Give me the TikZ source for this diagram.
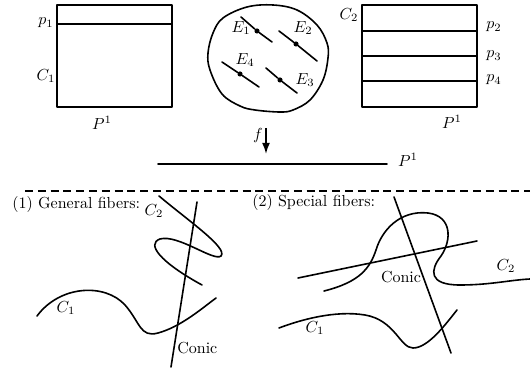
\documentclass[tikz,border=0pt]{standalone}
\usetikzlibrary{arrows.meta}
\begin{document}
\begin{tikzpicture}[x=0.625pt,y=-0.625pt,
  curve/.style={line width=1pt,line join=round,line cap=round},
  lbl/.style={inner sep=0pt},
  dotm/.style={circle,fill=black,inner sep=0pt,minimum size=3.2pt}]
\useasboundingbox (0,0) rectangle (530,373);
% left box
\draw[curve] (57,5) rectangle (172,107);
\draw[curve] (57,24) -- (172,24);
\node[lbl] (p1) at (46,23) {$p_1$};
\node[lbl] (c1a) at (46,76) {$C_1$};
\node[lbl] (pa) at (102,123) {$P^1$};
% blob
\draw[curve] plot[smooth cycle,tension=0.6] coordinates
  {(247,7) (273,5) (297,10) (317,25) (327,43) (328,58) (323,80) (310,100)
   (293,110) (280,112) (255,110) (240,106) (222,94) (210,70) (208,53) (213,33) (223,18)};
\node[dotm] (d1) at (257,31) {};
\node[dotm] (d2) at (296,44) {};
\node[dotm] (d4) at (240,74) {};
\node[dotm] (d3) at (280,80) {};
\draw[curve] (241,17) -- (d1) -- (272,42);
\draw[curve] (279,31) -- (d2) -- (317,61);
\draw[curve] (222,62) -- (d4) -- (259,87);
\draw[curve] (266,68) -- (d3) -- (297,93);
\node[lbl] (e1) at (241,28) {$E_1$};
\node[lbl] (e2) at (303,28) {$E_2$};
\node[lbl] (e4) at (245,60) {$E_4$};
\node[lbl] (e3) at (305,80) {$E_3$};
% right box
\draw[curve] (362,5) rectangle (477,107);
\draw[curve] (362,31) -- (477,31);
\draw[curve] (362,56) -- (477,56);
\draw[curve] (362,81) -- (477,81);
\node[lbl] (c2a) at (349,15) {$C_2$};
\node[lbl] (p2) at (494,27) {$p_2$};
\node[lbl] (p3) at (494,56) {$p_3$};
\node[lbl] (p4) at (494,80) {$p_4$};
\node[lbl] (pb) at (452,122) {$P^1$};
% map f
\coordinate (fa) at (266,128);
\coordinate (fb) at (266,154);
\draw[line width=1pt,-{Latex[length=7pt,width=5pt]}] (fa) -- (fb);
\node[lbl] (f) at (258,136) {$f$};
\coordinate (la) at (158,164);
\coordinate (lb) at (387,164);
\draw[curve] (la) -- (lb);
\node[lbl] (pc) at (408,160) {$P^1$};
% dashed separator
\coordinate (da) at (25,191);
\coordinate (db) at (530,191);
\draw[line width=1pt,dash pattern=on 5pt off 3pt] (da) -- (db);
% general fibers
\node[lbl,anchor=west] (t1) at (12,205) {(1) General fibers:};
\node[lbl] (c2g) at (154,211) {$C_2$};
\draw[curve] (197,202) -- (171,367);
\draw[curve] (159,196) .. controls (190,222) and (228,248) .. (221,256)
  .. controls (214,262) and (178,234) .. (160,239)
  .. controls (146,244) and (160,262) .. (202,285);
\draw[curve] (37,316) .. controls (60,285) and (105,283) .. (125,305)
  .. controls (140,322) and (140,338) .. (158,333)
  .. controls (180,327) and (200,310) .. (216,298);
\node[lbl] (c1g) at (66,308) {$C_1$};
\node[lbl,anchor=west] (cong) at (177,348) {Conic};
% special fibers
\node[lbl,anchor=west] (t2) at (252,203) {(2) Special fibers:};
\draw[curve] (394,197) -- (451,353);
\draw[curve] (298,278) -- (477,241);
\draw[curve] (324,291) .. controls (360,282) and (370,268) .. (376,250)
  .. controls (382,230) and (400,210) .. (428,213)
  .. controls (452,216) and (452,240) .. (441,256)
  .. controls (430,270) and (428,285) .. (460,285)
  .. controls (490,285) and (510,280) .. (530,279);
\draw[curve] (279,328) .. controls (300,320) and (335,310) .. (365,315)
  .. controls (395,320) and (400,348) .. (413,348)
  .. controls (428,348) and (445,325) .. (457,310);
\node[lbl] (c1s) at (315,328) {$C_1$};
\node[lbl] (c2s) at (506,266) {$C_2$};
\node[lbl] (cons) at (401,277) {Conic};
\end{tikzpicture}
\end{document}
